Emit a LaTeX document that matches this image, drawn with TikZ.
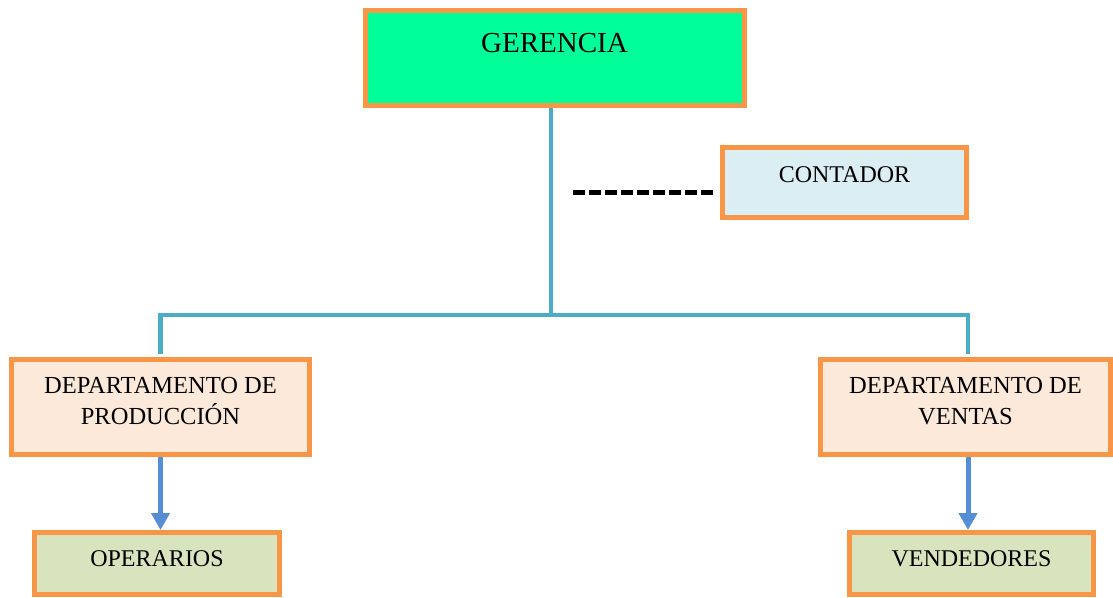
\documentclass[tikz,border=0pt]{standalone}
\usepackage{fontspec}
\setmainfont{Liberation Serif}
\usetikzlibrary{arrows.meta}
\definecolor{bord}{HTML}{F79646}
\definecolor{teal}{HTML}{4BACC6}
\definecolor{arrowblue}{HTML}{558ED5}
\definecolor{gerfill}{HTML}{00FF99}
\definecolor{peach}{HTML}{FDE9D9}
\definecolor{lblue}{HTML}{DAEEF3}
\definecolor{olive}{HTML}{D7E4BD}
\newcommand\lowstrut[1]{\rule[-#1]{0pt}{#1}}
\tikzset{
  box/.style={draw=bord, line width=5pt, rectangle, inner sep=0pt, outer sep=0pt, align=center},
  tline/.style={draw=teal, line width=4.5pt},
  barrow/.style={draw=arrowblue, line width=5pt, -{Triangle[width=18pt,length=17pt]}, shorten <=2.5pt, shorten >=2.5pt},
}
\begin{document}
\begin{tikzpicture}[x=1pt,y=-1pt]
\useasboundingbox (0,0) rectangle (1113,597);
% connectors
\coordinate (hub) at (551,315);
\coordinate (dstart) at (573,192);
\node[box, fill=gerfill, minimum width=379pt, minimum height=95pt, font=\fontsize{29}{34}\selectfont] (ger) at (554.5,57.5) {GERENCIA\lowstrut{30pt}};
\node[box, fill=lblue, minimum width=244pt, minimum height=70pt, font=\fontsize{24}{31}\selectfont] (cont) at (844.5,182.5) {CONTADOR\lowstrut{16pt}};
\node[box, fill=peach, minimum width=298pt, minimum height=95pt, font=\fontsize{24.5}{31}\selectfont] (dp) at (160.5,407) {DEPARTAMENTO DE\\PRODUCCIÓN\lowstrut{13pt}};
\node[box, fill=peach, minimum width=290pt, minimum height=95pt, font=\fontsize{24.5}{31}\selectfont] (dv) at (965.5,407) {DEPARTAMENTO DE\\VENTAS\lowstrut{13pt}};
\node[box, fill=olive, minimum width=245pt, minimum height=62pt, font=\fontsize{24}{31}\selectfont] (op) at (157,563.5) {OPERARIOS\lowstrut{10pt}};
\node[box, fill=olive, minimum width=244pt, minimum height=62pt, font=\fontsize{24}{31}\selectfont] (ve) at (971.5,563.5) {VENDEDORES\lowstrut{10pt}};

\draw[tline, shorten <=2.5pt] (ger.south -| hub) -- (hub);
\draw[tline, shorten >=6pt] (hub) -| (dp.north);
\draw[tline, shorten >=6pt] (hub) -| ([xshift=2.5pt]dv.north);
\draw[black, line width=5pt, dash pattern=on 12pt off 4pt] (dstart) -- (cont.west |- dstart) [shorten >=7.5pt];
\draw[barrow] (dp.south) -- (dp.south |- op.north);
\draw[barrow] ([xshift=2.5pt]dv.south) -- ([xshift=2.5pt]dv.south |- ve.north);
\end{tikzpicture}
\end{document}
